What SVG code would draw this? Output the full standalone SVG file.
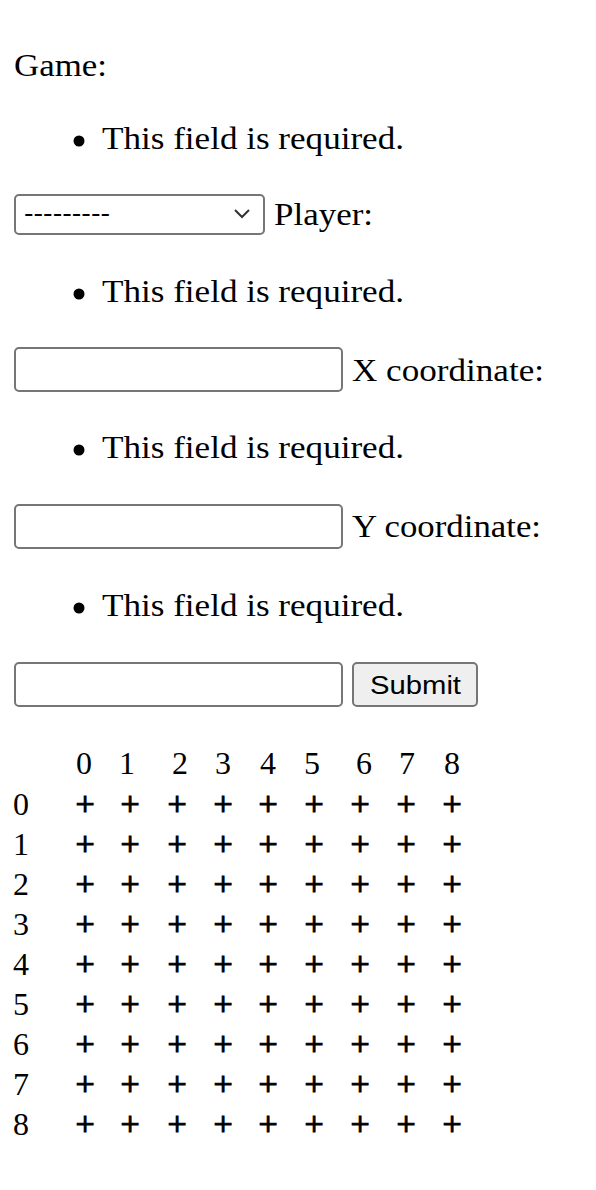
<svg xmlns="http://www.w3.org/2000/svg" width="596" height="1190" viewBox="0 0 596 1190">
<style>
.t{font-family:"Liberation Serif","Times New Roman",serif;font-size:32px;fill:#000}
.s{font-family:"Liberation Sans",Arial,sans-serif;font-size:26.7px;fill:#000}
.box{fill:#fff;stroke:#767676;stroke-width:2}
.btn{fill:#efefef;stroke:#767676;stroke-width:2}
.m{text-anchor:middle}
.p{font-family:"Liberation Serif","Times New Roman",serif;font-size:34px;fill:#000;stroke:#000;stroke-width:1.1;text-anchor:middle}
</style>
<rect width="596" height="1190" fill="#fff"/>
<g id="game-label"><text class="t" x="14" y="76" textLength="93" lengthAdjust="spacingAndGlyphs">Game:</text></g>
<g id="err1"><circle cx="79" cy="141" r="5.5"/><text class="t" x="102" y="149" textLength="302" lengthAdjust="spacingAndGlyphs">This field is required.</text></g>
<g id="game-select">
<rect class="box" x="15" y="195" width="249" height="39" rx="4"/>
<text class="s" x="24" y="222" textLength="86" lengthAdjust="spacingAndGlyphs">---------</text>
<path d="M235 210 L242 217 L249 210" fill="none" stroke="#333" stroke-width="2"/>
</g>
<g id="player-label"><text class="t" x="274" y="225" textLength="99" lengthAdjust="spacingAndGlyphs">Player:</text></g>
<g id="err2"><circle cx="79" cy="294" r="5.5"/><text class="t" x="102" y="302" textLength="302" lengthAdjust="spacingAndGlyphs">This field is required.</text></g>
<g id="player-input"><rect class="box" x="15" y="348" width="327" height="43" rx="4"/></g>
<g id="x-label"><text class="t" x="352" y="381" textLength="192" lengthAdjust="spacingAndGlyphs">X coordinate:</text></g>
<g id="err3"><circle cx="79" cy="450" r="5.5"/><text class="t" x="102" y="458" textLength="302" lengthAdjust="spacingAndGlyphs">This field is required.</text></g>
<g id="x-input"><rect class="box" x="15" y="505" width="327" height="43" rx="4"/></g>
<g id="y-label"><text class="t" x="352" y="537" textLength="189" lengthAdjust="spacingAndGlyphs">Y coordinate:</text></g>
<g id="err4"><circle cx="79" cy="608" r="5.5"/><text class="t" x="102" y="616" textLength="302" lengthAdjust="spacingAndGlyphs">This field is required.</text></g>
<g id="y-input"><rect class="box" x="15" y="663" width="327" height="43" rx="4"/></g>
<g id="submit"><rect class="btn" x="353" y="663" width="124" height="43" rx="4"/><text class="s" x="370" y="694" textLength="91" lengthAdjust="spacingAndGlyphs">Submit</text></g>
<g id="board">
<g id="header" class="t m">
<text x="84" y="774">0</text><text x="127" y="774">1</text><text x="180" y="774">2</text><text x="223" y="774">3</text><text x="268" y="774">4</text><text x="312" y="774">5</text><text x="364" y="774">6</text><text x="407" y="774">7</text><text x="452" y="774">8</text>
</g>
<g id="rows" class="t">
<text x="13" y="815">0</text><text x="13" y="855">1</text><text x="13" y="895">2</text><text x="13" y="935">3</text><text x="13" y="975">4</text><text x="13" y="1015">5</text><text x="13" y="1055">6</text><text x="13" y="1095">7</text><text x="13" y="1135">8</text>
</g>
<g id="cells" class="p">
<text y="815"><tspan x="85">+</tspan><tspan x="130">+</tspan><tspan x="177">+</tspan><tspan x="223">+</tspan><tspan x="268">+</tspan><tspan x="314">+</tspan><tspan x="360">+</tspan><tspan x="406">+</tspan><tspan x="452">+</tspan></text>
<text y="855"><tspan x="85">+</tspan><tspan x="130">+</tspan><tspan x="177">+</tspan><tspan x="223">+</tspan><tspan x="268">+</tspan><tspan x="314">+</tspan><tspan x="360">+</tspan><tspan x="406">+</tspan><tspan x="452">+</tspan></text>
<text y="895"><tspan x="85">+</tspan><tspan x="130">+</tspan><tspan x="177">+</tspan><tspan x="223">+</tspan><tspan x="268">+</tspan><tspan x="314">+</tspan><tspan x="360">+</tspan><tspan x="406">+</tspan><tspan x="452">+</tspan></text>
<text y="935"><tspan x="85">+</tspan><tspan x="130">+</tspan><tspan x="177">+</tspan><tspan x="223">+</tspan><tspan x="268">+</tspan><tspan x="314">+</tspan><tspan x="360">+</tspan><tspan x="406">+</tspan><tspan x="452">+</tspan></text>
<text y="975"><tspan x="85">+</tspan><tspan x="130">+</tspan><tspan x="177">+</tspan><tspan x="223">+</tspan><tspan x="268">+</tspan><tspan x="314">+</tspan><tspan x="360">+</tspan><tspan x="406">+</tspan><tspan x="452">+</tspan></text>
<text y="1015"><tspan x="85">+</tspan><tspan x="130">+</tspan><tspan x="177">+</tspan><tspan x="223">+</tspan><tspan x="268">+</tspan><tspan x="314">+</tspan><tspan x="360">+</tspan><tspan x="406">+</tspan><tspan x="452">+</tspan></text>
<text y="1055"><tspan x="85">+</tspan><tspan x="130">+</tspan><tspan x="177">+</tspan><tspan x="223">+</tspan><tspan x="268">+</tspan><tspan x="314">+</tspan><tspan x="360">+</tspan><tspan x="406">+</tspan><tspan x="452">+</tspan></text>
<text y="1095"><tspan x="85">+</tspan><tspan x="130">+</tspan><tspan x="177">+</tspan><tspan x="223">+</tspan><tspan x="268">+</tspan><tspan x="314">+</tspan><tspan x="360">+</tspan><tspan x="406">+</tspan><tspan x="452">+</tspan></text>
<text y="1135"><tspan x="85">+</tspan><tspan x="130">+</tspan><tspan x="177">+</tspan><tspan x="223">+</tspan><tspan x="268">+</tspan><tspan x="314">+</tspan><tspan x="360">+</tspan><tspan x="406">+</tspan><tspan x="452">+</tspan></text>
</g>
</g>
</svg>
